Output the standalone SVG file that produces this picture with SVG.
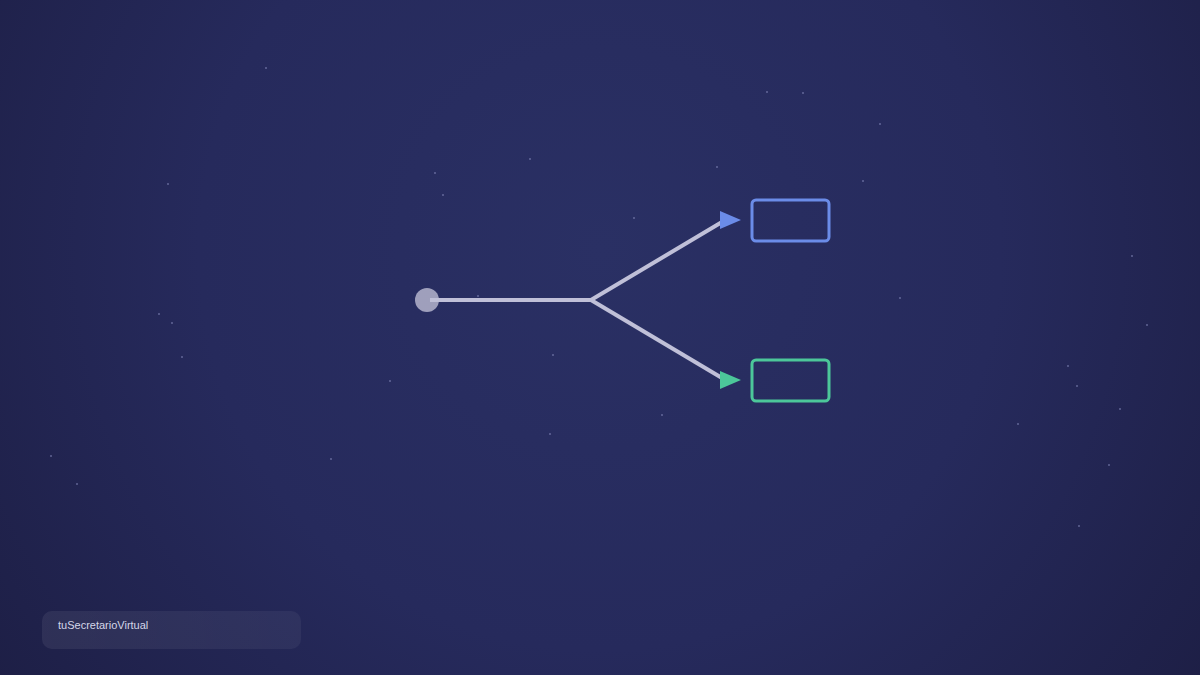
<svg xmlns="http://www.w3.org/2000/svg" width="1200" height="675" viewBox="0 0 1200 675">
<defs>
<radialGradient id="bg" cx="600" cy="250" r="800" gradientUnits="userSpaceOnUse">
<stop offset="0" stop-color="#2a3064"/>
<stop offset="0.5" stop-color="#262a5c"/>
<stop offset="1" stop-color="#1c1d42"/>
</radialGradient>
<linearGradient id="foot" x1="0" y1="0" x2="1" y2="0">
<stop offset="0" stop-color="#ffffff" stop-opacity="0.07"/>
<stop offset="1" stop-color="#ffffff" stop-opacity="0.05"/>
</linearGradient>
</defs>
<style>
.star{fill:#8a90c0;opacity:0.6}
.line{stroke:#c0c0d8;stroke-width:4;fill:none;stroke-linecap:butt}
.box{fill:none;stroke-width:3}
.label{font-family:"Liberation Sans",Arial,sans-serif;font-size:11px;fill:#d4d6e8}
</style>
<rect width="1200" height="675" fill="url(#bg)"/>
<g id="stars">
<circle class="star" cx="266" cy="68" r="1"/>
<circle class="star" cx="767" cy="92" r="1"/>
<circle class="star" cx="803" cy="93" r="1"/>
<circle class="star" cx="880" cy="124" r="1"/>
<circle class="star" cx="530" cy="159" r="1"/>
<circle class="star" cx="717" cy="167" r="1"/>
<circle class="star" cx="435" cy="173" r="1"/>
<circle class="star" cx="168" cy="184" r="1"/>
<circle class="star" cx="863" cy="181" r="1"/>
<circle class="star" cx="443" cy="195" r="1"/>
<circle class="star" cx="634" cy="218" r="1"/>
<circle class="star" cx="1132" cy="256" r="1"/>
<circle class="star" cx="478" cy="296" r="1"/>
<circle class="star" cx="900" cy="298" r="1"/>
<circle class="star" cx="159" cy="314" r="1"/>
<circle class="star" cx="172" cy="323" r="1"/>
<circle class="star" cx="1147" cy="325" r="1"/>
<circle class="star" cx="553" cy="355" r="1"/>
<circle class="star" cx="182" cy="357" r="1"/>
<circle class="star" cx="1068" cy="366" r="1"/>
<circle class="star" cx="390" cy="381" r="1"/>
<circle class="star" cx="1077" cy="386" r="1"/>
<circle class="star" cx="1120" cy="409" r="1"/>
<circle class="star" cx="662" cy="415" r="1"/>
<circle class="star" cx="1018" cy="424" r="1"/>
<circle class="star" cx="550" cy="434" r="1"/>
<circle class="star" cx="51" cy="456" r="1"/>
<circle class="star" cx="331" cy="459" r="1"/>
<circle class="star" cx="1109" cy="465" r="1"/>
<circle class="star" cx="77" cy="484" r="1"/>
<circle class="star" cx="1079" cy="526" r="1"/>
</g>
<g id="start">
<circle cx="427" cy="300" r="12" fill="#b4b4cc" opacity="0.85"/>
</g>
<g id="connectors">
<path class="line" d="M430 300 H591 L722 222"/>
<path class="line" d="M591 300 L722 378"/>
<polygon points="720,211 741,220 720,229" fill="#6b8ce8"/>
<polygon points="720,371 741,380 720,389" fill="#4cc79a"/>
</g>
<g id="node-top">
<rect class="box" x="752" y="200" width="77" height="41" rx="4" stroke="#6b8ce8"/>
</g>
<g id="node-bottom">
<rect class="box" x="752" y="360" width="77" height="41" rx="4" stroke="#4cc79a"/>
</g>
<g id="footer">
<rect x="42" y="611" width="259" height="38" rx="10" fill="url(#foot)"/>
<text class="label" x="58" y="629">tuSecretarioVirtual</text>
</g>
</svg>
